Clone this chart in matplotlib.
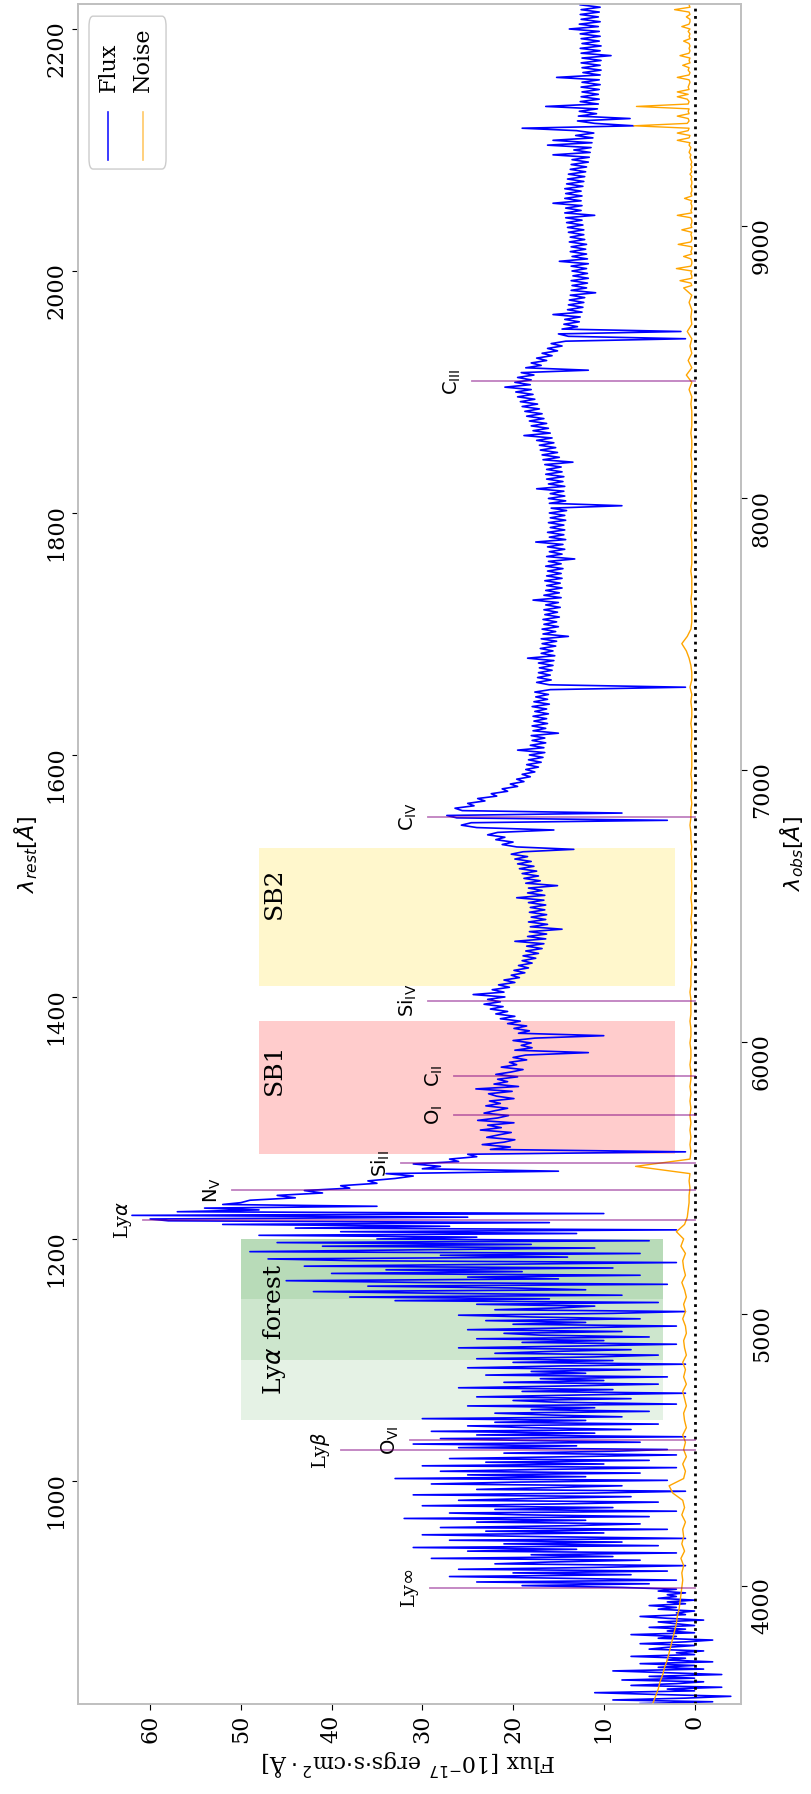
import numpy as np
import matplotlib
matplotlib.use("Agg")
import matplotlib.pyplot as plt
from matplotlib.patches import FancyBboxPatch

plt.rcParams["font.family"] = "serif"
plt.rcParams["font.serif"] = ["DejaVu Serif"]
plt.rcParams["mathtext.fontset"] = "dejavusans"
plt.rcParams["font.size"] = 16

# ---- spectrum, sampled in rest frame (Angstrom) ----
wave_a = np.arange(816, 1230.1, 1.5)     # blue of Ly-alpha, 1.5 A steps
flux_a = [
    6, -2, 9, 1, -4, 4, 11, 0, 3, -3, 7, 2, -1, 8, 0, 5, -3, 3, 9, -1,
    4, 0, 6, -2, 3, 1, 7, 0, 2, -1, 5, 3, 0, 6, 1, -2, 4, 2, 7, 0,
    3, 1, 5, 0, 2, 4, -1, 3, 6, 1, 2, 0, 4, 2, 5, 1, 3, 0, 4, 2,
    3, 1, 4, 2, 8, 19, 5, 24, 2, 14, 27, 7, 20, 3, 26, 11, 1, 22, 16, 6,
    29, 9, 18, 2, 25, 13, 31, 4, 21, 8, 27, 1, 17, 30, 10, 23, 3, 28, 14, 6,
    24, 12, 32, 5, 19, 27, 2, 22, 9, 30, 15, 4, 26, 18, 7, 31, 11, 1, 24, 16,
    8, 29, 20, 3, 33, 12, 25, 6, 28, 17, 2, 30, 10, 23, 5, 27, 14, 2, 21, 9,
    3, 26, 13, 31, 6, 19, 28, 1, 24, 11, 29, 7, 18, 25, 4, 22, 12, 30, 8, 16,
    22, 5, 18, 11, 25, 2, 15, 20, 7, 24, 13, 1, 19, 9, 26, 14, 4, 21, 10, 17,
    3, 23, 12, 18, 6, 25, 15, 1, 20, 9, 24, 11, 4, 22, 16, 7, 26, 13, 2, 19,
    10, 24, 5, 17, 21, 8, 25, 14, 2, 20, 12, 23, 6, 18, 26, 9, 1, 22, 15, 11,
    24, 4, 33, 16, 38, 8, 27, 42, 12, 20, 36, 3, 30, 45, 15, 25, 6, 40, 19, 34,
    9, 43, 22, 2, 37, 47, 14, 28, 6, 49, 31, 11, 41, 18, 46, 5, 35, 24, 48, 13,
    39, 2, 44, 27, 52, 16, 58, 60, 25, 62, 10, 57, 48, 54, 35, 52, 50,
]
wave_b = np.arange(1232, 2220.1, 2)      # red side, 2 A steps
flux_b = [
    49, 44, 46, 41, 43, 38, 39, 35, 36, 33, 31, 34, 15, 30, 28, 31, 26, 27, 24, 25,
    1, 22.5, 20.3, 23.4, 21.0, 19.8, 22.9, 21.6, 20.2, 23.6, 21.3, 22.8, 19.9, 23.9, 21.7, 20.5, 23.2, 22.0, 20.6, 23.0,
    21.4, 22.6, 19.9, 21.8, 22.7, 20.1, 24.1, 19.4, 22.1, 20.6, 21.7, 19.5, 21.9, 20.2, 18.9, 21.3, 19.6, 20.4, 18.5, 20.0,
    18.6, 11.7, 19.8, 17.9, 19.1, 18.0, 20.0, 17.6, 10.0, 19.4, 18.2, 19.9, 18.5, 20.6, 19.2, 21.4, 19.8, 21.9, 20.6, 22.5,
    21.1, 23.2, 21.4, 22.8, 20.9, 24.4, 21.0, 22.3, 20.4, 21.6, 19.8, 21.0, 19.3, 20.2, 18.7, 19.9, 18.3, 19.4, 17.9, 19.0,
    17.5, 18.9, 17.2, 18.6, 16.8, 18.5, 16.6, 19.8, 16.4, 18.4, 16.3, 18.2, 14.6, 18.1, 16.2, 18.3, 16.4, 18.0, 16.3, 18.2,
    16.5, 18.1, 16.4, 18.3, 16.6, 19.6, 16.5, 18.4, 16.8, 18.3, 15.1, 18.6, 17.0, 18.8, 17.2, 19.0, 17.4, 19.3, 17.7, 19.5,
    18.0, 19.8, 18.4, 20.2, 18.9, 13.3, 19.6, 21.2, 20.0, 21.9, 20.9, 22.8, 21.7, 15.5, 24.0, 25.7, 24.6, 3.0, 26.2, 27.3,
    8.0, 25.6, 26.4, 24.3, 25.0, 23.1, 23.9, 21.8, 22.4, 20.6, 21.2, 19.5, 20.3, 18.8, 19.6, 18.1, 19.0, 17.6, 18.6, 17.2,
    18.5, 16.9, 18.3, 16.7, 18.2, 16.5, 19.5, 16.6, 18.1, 16.4, 17.9, 16.5, 18.0, 15.0, 17.8, 16.4, 17.9, 16.2, 17.7, 16.3,
    17.8, 16.1, 17.6, 16.3, 17.9, 16.0, 17.7, 16.2, 17.5, 16.1, 17.6, 15.9, 1.0, 16.0, 17.4, 15.8, 17.3, 15.9, 17.2, 15.7,
    17.1, 15.6, 17.2, 15.5, 18.4, 15.4, 16.9, 15.6, 17.0, 15.3, 16.8, 15.2, 16.9, 13.9, 16.7, 15.3, 16.8, 15.0, 16.6, 15.2,
    16.7, 14.9, 16.5, 15.1, 16.6, 14.8, 16.4, 15.0, 17.8, 14.7, 16.6, 14.9, 16.4, 14.6, 16.3, 14.8, 16.5, 14.6, 16.3, 14.7,
    16.2, 14.5, 16.4, 14.7, 16.1, 13.2, 16.3, 14.6, 16.0, 14.3, 16.2, 14.5, 17.5, 14.2, 16.0, 14.4, 16.2, 14.3, 15.9, 14.4,
    16.1, 14.2, 15.9, 14.3, 16.0, 14.1, 15.8, 8.0, 16.0, 14.2, 16.1, 14.3, 15.9, 14.4, 17.4, 14.3, 16.1, 14.5, 16.3, 14.4,
    16.4, 14.6, 16.3, 14.7, 16.5, 13.4, 16.7, 14.9, 16.8, 15.1, 17.0, 15.3, 17.1, 15.5, 17.4, 15.7, 18.8, 15.9, 17.8, 16.1,
    18.0, 16.3, 18.2, 16.6, 18.5, 16.8, 18.7, 17.1, 19.0, 17.3, 19.2, 17.6, 19.5, 17.8, 19.7, 18.0, 20.9, 18.1, 19.8, 18.0,
    19.5, 17.7, 19.1, 11.7, 18.6, 16.9, 18.0, 16.3, 17.4, 15.7, 16.8, 15.1, 16.2, 14.6, 15.8, 14.2, 1.0, 13.9, 15.0, 1.5,
    14.6, 12.9, 14.4, 12.7, 14.3, 12.6, 15.6, 12.4, 14.0, 12.3, 13.9, 12.2, 13.8, 12.1, 13.7, 10.9, 13.6, 11.9, 13.5, 11.8,
    13.6, 11.7, 13.4, 11.8, 13.5, 11.9, 13.6, 11.7, 14.9, 11.8, 13.5, 11.9, 13.7, 12.0, 13.6, 11.9, 13.8, 12.1, 13.7, 12.2,
    13.9, 12.2, 14.0, 12.3, 14.1, 12.4, 14.2, 11.0, 14.3, 12.5, 14.2, 12.4, 15.6, 12.5, 14.3, 12.4, 14.2, 12.5, 14.3, 12.3,
    14.1, 12.2, 14.0, 12.1, 13.9, 12.0, 13.7, 11.9, 13.6, 11.7, 13.5, 11.6, 15.6, 11.5, 13.3, 11.4, 16.2, 11.3, 15.6, 11.2,
    13.1, 11.1, 13.0, 19.0, 6.7, 11.0, 12.9, 7.1, 12.8, 10.8, 12.7, 10.7, 16.4, 10.6, 12.6, 10.5, 12.5, 10.6, 12.4, 10.5,
    12.5, 10.4, 12.4, 10.5, 15.2, 10.4, 12.3, 10.3, 12.4, 10.4, 12.5, 10.3, 12.4, 9.2, 12.5, 10.4, 12.6, 10.3, 12.4, 10.5,
    12.5, 10.4, 12.6, 10.5, 13.8, 10.6, 12.7, 10.4, 12.5, 10.6, 12.6, 10.5, 12.5, 10.4, 12.6,
]

wave_noise_a = np.arange(816, 1986.1, 6)
noise_a = [
    4.6, 4.3, 4.0, 3.8, 3.5, 3.3, 3.0, 2.8, 2.6, 2.4,
    2.2, 2.0, 1.9, 1.7, 1.6, 1.5, 1.4, 1.3, 1.4, 1.2,
    1.5, 1.1, 1.4, 1.2, 1.3, 1.0, 1.4, 1.1, 1.3, 2.4,
    2.8, 1.2, 1.0, 1.3, 0.9, 1.2, 1.0, 1.3, 0.9, 1.1,
    1.2, 0.9, 1.1, 1.3, 0.9, 1.2, 1.0, 1.3, 0.9, 1.1,
    1.2, 0.9, 1.0, 1.3, 1.0, 1.2, 0.9, 1.1, 1.4, 1.0,
    1.2, 1.3, 1.0, 1.5, 1.2, 2.0, 1.1, 0.8, 0.7, 0.6,
    0.6, 0.5, 0.6, 0.5, 6.5, 0.5, 0.4, 0.5, 0.4, 0.5,
    0.4, 0.5, 0.4, 0.5, 0.4, 0.5, 0.4, 0.4, 0.5, 0.4,
    0.4, 0.5, 0.4, 0.4, 0.5, 0.4, 0.4, 0.4, 0.5, 0.4,
    0.4, 0.4, 0.3, 0.4, 0.4, 0.3, 0.4, 0.3, 0.4, 0.3,
    0.3, 0.4, 0.3, 0.3, 0.4, 0.3, 0.3, 0.4, 0.3, 0.4,
    0.4, 0.5, 0.4, 0.4, 0.3, 0.4, 0.3, 0.3, 0.4, 0.3,
    0.3, 0.3, 0.4, 0.3, 0.3, 0.4, 0.3, 0.3, 0.4, 0.3,
    0.5, 0.3, 0.3, 0.4, 0.6, 0.9, 1.4, 0.8, 0.4, 0.3,
    0.3, 0.3, 0.4, 0.3, 0.3, 0.3, 0.4, 0.3, 0.3, 0.3,
    0.3, 0.4, 0.3, 0.3, 0.3, 0.4, 0.3, 0.3, 0.3, 0.4,
    0.3, 0.3, 0.4, 0.3, 0.3, 0.4, 0.3, 0.3, 0.3, 0.4,
    0.3, 0.6, 0.3, 0.9, 0.3, 0.7, 0.3, 0.5, 0.3, 0.8,
    0.3, 0.4, 0.3, 0.6, 0.3, 1.2,
]
wave_noise_b = np.arange(1988, 2220.1, 2)
noise_b = [
    0.3, 0.4, 1.6, 0.3, 0.3, 0.4, 0.3, 2.0, 0.4, 0.3, 0.3, 0.4, 1.2, 0.3, 0.4, 0.3, 0.3, 1.8, 0.4, 0.3,
    0.3, 0.4, 0.3, 1.4, 0.3, 0.4, 0.3, 0.3, 0.4, 1.9, 0.3, 0.4, 0.3, 0.3, 0.4, 0.3, 1.1, 0.3, 0.4, 0.3,
    0.3, 0.4, 0.3, 0.3, 0.4, 0.3, 0.5, 0.3, 0.4, 0.3, 0.4, 0.3, 0.4, 0.5, 0.4, 0.6, 0.5, 0.4, 0.6, 0.5,
    1.9, 0.6, 0.5, 1.9, 0.7, 0.6, 6.7, 0.8, 0.6, 0.7, 1.9, 0.6, 0.7, 0.6, 6.4, 0.7, 0.6, 0.8, 1.9, 0.7,
    1.9, 0.6, 0.7, 0.6, 0.5, 0.6, 1.9, 0.6, 0.5, 0.7, 0.6, 1.3, 0.5, 0.6, 0.5, 1.6, 0.6, 0.5, 0.6, 0.5,
    0.6, 1.2, 0.5, 0.6, 0.5, 0.7, 0.5, 1.4, 0.6, 0.5, 0.5, 0.9, 0.5, 0.6, 2.2, 0.5, 0.6,
]

# ---- emission lines: rest wavelength, marker height (flux) ----
line_names = [r"Ly$\infty$", r"Ly$\beta$", r"$\rm O_{VI}$", r"Ly$\alpha$",
              r"$\rm N_{V}$", r"$\rm Si_{II}$", r"$\rm O_{I}$", r"$\rm C_{II}$",
              r"$\rm Si_{IV}$", r"$\rm C_{IV}$", r"$\rm C_{III}$"]
line_wave = [911.75, 1025.72, 1033.82, 1215.67, 1240.14, 1262.59,
             1302.17, 1334.53, 1396.76, 1549.06, 1908.73]
line_top = [29.2, 39.0, 31.4, 60.8, 51.0, 32.3, 26.5, 26.5, 29.4, 29.4, 24.5]

# ---- shaded windows (rest frame) ----
forest_bands = [(1050, 1200), (1100, 1200), (1150, 1200)]
sb1 = (1270, 1380)
sb2 = (1409, 1523)

rest_lim = (815.7, 2221.0)
obs_lim = (3566, 9818)
flux_lim = (68.0, -5.07)

fig = plt.figure(figsize=(8.11, 17.94), dpi=100)
ax = fig.add_axes([0.0956, 0.0502, 0.8175, 0.9478])

# shaded regions
for lo, hi in forest_bands:
    ax.fill_betweenx([lo, hi], 3.5, 50.0, color="green", alpha=0.1, lw=0)
ax.fill_betweenx(list(sb1), 2.1, 48.0, color="red", alpha=0.2, lw=0)
ax.fill_betweenx(list(sb2), 2.1, 48.0, color="gold", alpha=0.2, lw=0)

ax.text(46.3, np.mean(forest_bands[0]), r"Ly$\alpha$ forest", rotation=90,
        ha="center", va="center", fontsize=18)
ax.text(46.3, 1340, "SB1", rotation=90, ha="center", va="center", fontsize=18)
ax.text(46.3, 1486, "SB2", rotation=90, ha="center", va="center", fontsize=18)

# spectrum
wave = np.concatenate([wave_a, wave_b])
flux = np.concatenate([flux_a, flux_b])
ax.plot(flux, wave, color="blue", lw=1.2, zorder=3)
ax.plot(np.concatenate([noise_a, noise_b]),
        np.concatenate([wave_noise_a, wave_noise_b]),
        color="orange", lw=1.0, zorder=4)
ax.axvline(0, color="black", ls=":", lw=2, zorder=5)

# line markers
for name, w, top in zip(line_names, line_wave, line_top):
    ax.plot([0, top], [w, w], color="purple", alpha=0.5, lw=1.3, zorder=6)
    ax.text(top + 1.0, w, name, rotation=90, ha="right", va="center", fontsize=14)

ax.set_xlim(*flux_lim)
ax.set_ylim(*rest_lim)
ax.set_xticks(np.arange(0, 61, 10))
ax.set_yticks(np.arange(1000, 2201, 200))
ax.tick_params(axis="x", labelrotation=90, length=4)
ax.tick_params(axis="y", labelrotation=90, length=4)
ax.set_xlabel(r"Flux [10$^{-17}$ ergs$\cdot$s$\cdot$cm$^2\cdot$Å]", rotation=180)
ax.set_ylabel(r"$\lambda_{rest}[\AA]$")

ax2 = ax.twinx()
ax2.set_ylim(*obs_lim)
ax2.set_yticks(np.arange(4000, 9001, 1000))
ax2.tick_params(axis="y", labelrotation=90, length=4)
ax2.set_ylabel(r"$\lambda_{obs}[\AA]$", rotation=90)

for a in (ax, ax2):
    for sp in a.spines.values():
        sp.set_color("#bfbfbf")
        sp.set_linewidth(1.2)

# legend, drawn by hand so it can be turned with the rest of the figure
box = FancyBboxPatch((0.0173, 0.9027), 0.1162, 0.0899,
                     boxstyle="round,pad=0,rounding_size=0.006",
                     transform=ax.transAxes, facecolor="white",
                     edgecolor="#cccccc", lw=1.0, zorder=10)
ax.add_patch(box)
for xc, color, label in [(0.0465, "blue", "Flux"), (0.0988, "orange", "Noise")]:
    ax.plot([xc, xc], [0.908, 0.9362], color=color, lw=1.2,
            transform=ax.transAxes, zorder=11, alpha=0.9 if color == "blue" else 0.6)
    ax.text(xc, 0.948, label, rotation=90, ha="center", va="bottom",
            transform=ax.transAxes, fontsize=16, zorder=11)

fig.savefig("out.png", dpi=100)
